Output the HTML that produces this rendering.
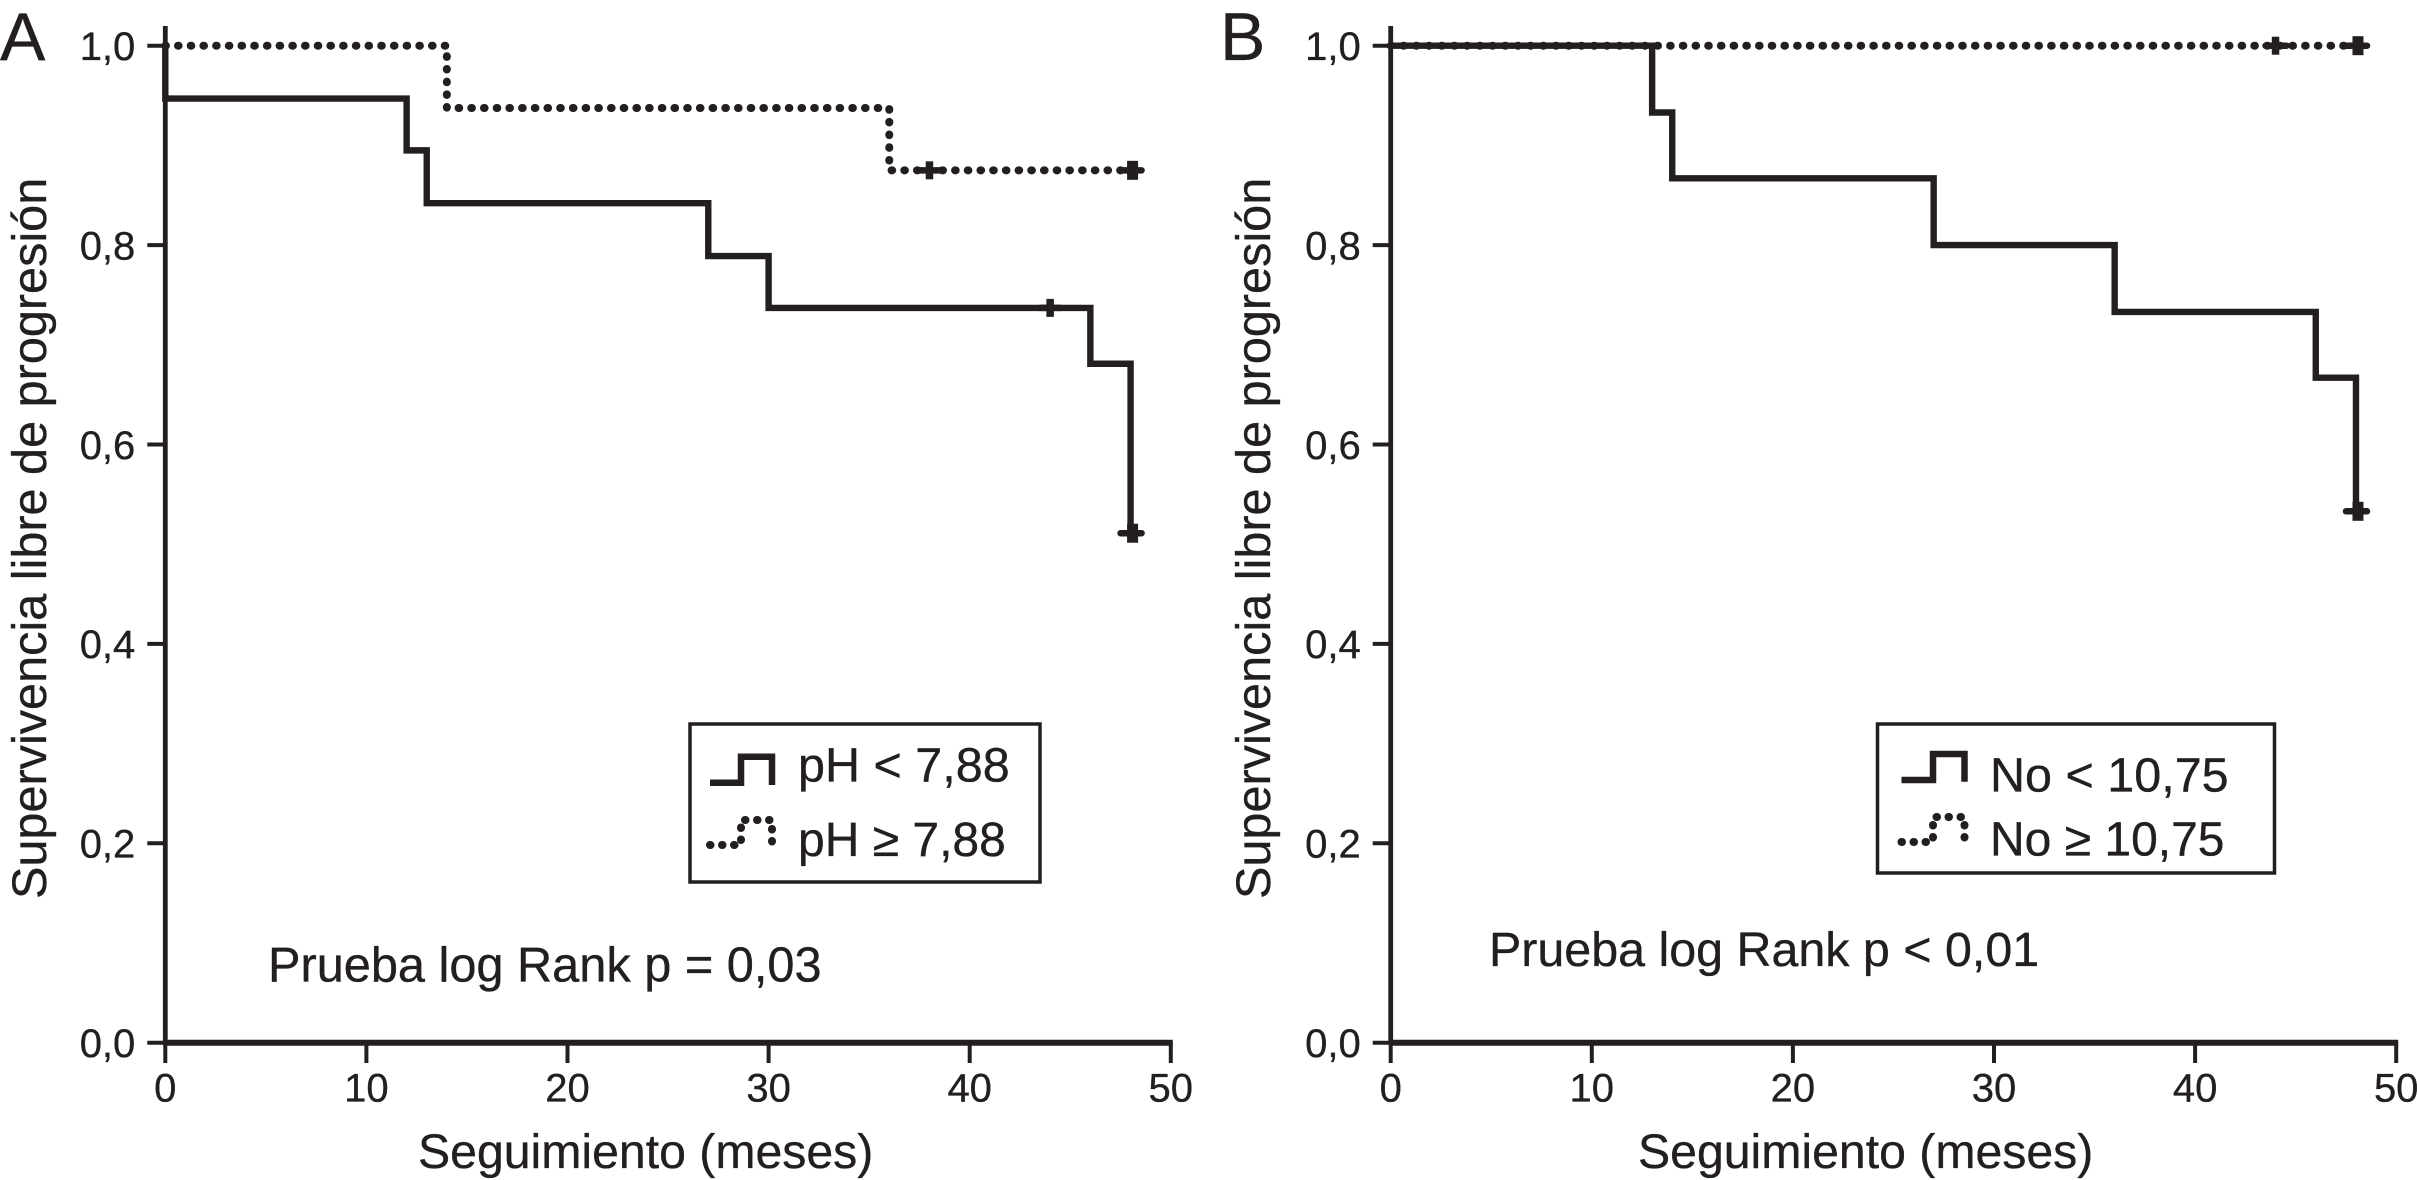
<!DOCTYPE html>
<html lang="es">
<head>
<meta charset="utf-8">
<title>Supervivencia libre de progresión</title>
<style>
html,body{margin:0;padding:0;background:#fff;}
svg{display:block;}
text{font-family:"Liberation Sans",Arial,sans-serif;fill:#231f20;stroke:#231f20;stroke-width:0.35px;}
</style>
</head>
<body>
<svg id="chart" xmlns="http://www.w3.org/2000/svg" width="2417" height="1180" viewBox="0 0 2417 1180">
  <rect width="2417" height="1180" fill="#fff"/>

  <g id="panel-a">
    <text x="0" y="60" font-size="68">A</text>
    <text transform="translate(46,899) rotate(-90)" font-size="48.6">Supervivencia libre de progresión</text>
    <text x="418" y="1168" font-size="48.2">Seguimiento (meses)</text>
    <text x="268" y="981.7" font-size="48.7">Prueba log Rank p = 0,03</text>
    <g>
      <rect x="690" y="724" width="350" height="158" fill="#fff" stroke="#231f20" stroke-width="3.5"/>
      <path d="M710 782.7H741V756.7H772V785" fill="none" stroke="#231f20" stroke-width="6.5"/>
      <path d="M710 845H741V820H772V845" fill="none" stroke="#231f20" stroke-width="8" stroke-linecap="round" stroke-dasharray="0.5 11.5"/>
      <text x="798" y="781.7" font-size="48.5">pH &lt; 7,88</text>
      <text x="798" y="856" font-size="48">pH ≥ 7,88</text>
    </g>
  </g>

  <g id="panel-b">
    <text x="1220" y="60" font-size="68">B</text>
    <text transform="translate(1270,899) rotate(-90)" font-size="48.6">Supervivencia libre de progresión</text>
    <text x="1638" y="1168" font-size="48.2">Seguimiento (meses)</text>
    <text x="1489" y="966" font-size="48.4">Prueba log Rank p &lt; 0,01</text>
    <g>
      <rect x="1877.5" y="724" width="397" height="149" fill="#fff" stroke="#231f20" stroke-width="3.5"/>
      <path d="M1901.5 780H1933V754H1964.5V781.7" fill="none" stroke="#231f20" stroke-width="6.5"/>
      <path d="M1901.5 842H1933V817H1964.5V842" fill="none" stroke="#231f20" stroke-width="8" stroke-linecap="round" stroke-dasharray="0.5 11.5"/>
      <text x="1990" y="791.7" font-size="48.5">No &lt; 10,75</text>
      <text x="1990" y="855.7" font-size="48">No ≥ 10,75</text>
    </g>
  </g>
</svg>

<script>
// Shared axis data
const xTickValues = [0, 10, 20, 30, 40, 50];
const xTickLabels = ["0", "10", "20", "30", "40", "50"];
const yTickValues = [0, 0.2, 0.4, 0.6, 0.8, 1];
const yTickLabels = ["0,0", "0,2", "0,4", "0,6", "0,8", "1,0"];
const followUpEnd = 48;

// Panel A: pH groups
const aSolidTimes = [0, 12, 13, 27, 30, 46, 48];
const aSolidSurvival = [0.947, 0.895, 0.842, 0.789, 0.737, 0.681, 0.511];
const aSolidCensorTimes = [44, 48];
const aDottedTimes = [14, 36];
const aDottedSurvival = [0.9375, 0.875];
const aDottedCensorTimes = [38, 48];

// Panel B: No groups
const bSolidTimes = [13, 14, 27, 36, 46, 48];
const bSolidSurvival = [0.933, 0.867, 0.8, 0.733, 0.667, 0.533];
const bSolidCensorTimes = [48];
const bDottedTimes = [];
const bDottedSurvival = [];
const bDottedCensorTimes = [44, 48];

const SVG_NS = "http://www.w3.org/2000/svg";
const INK = "#231f20";

function xScale(originX, t) { return originX + t * 20.11; }
function yScale(s) { return 1042.7 - s * 997; }

function survivalAt(times, vals, t) {
  let s = 1;
  times.forEach(function (tt, i) { if (tt <= t) s = vals[i]; });
  return s;
}

function stepPath(originX, times, vals) {
  let d = "M" + xScale(originX, 0) + " " + yScale(1);
  times.forEach(function (t, i) {
    d += "H" + xScale(originX, t) + "V" + yScale(vals[i]);
  });
  d += "H" + xScale(originX, followUpEnd);
  return d;
}

function make(parent, tag, props) {
  const el = document.createElementNS(SVG_NS, tag);
  Object.keys(props).forEach(function (k) { el.setAttribute(k, props[k]); });
  parent.appendChild(el);
  return el;
}

function drawAxes(group, originX, prefix) {
  yTickValues.forEach(function (v, i) {
    const tick = make(group, "line", {x1: originX - 18, x2: originX, y1: yScale(v), y2: yScale(v), stroke: INK, "stroke-width": 4});
    
    
    const label = make(group, "text", {x: originX - 30, y: yScale(v) + 14.3, "text-anchor": "end", "font-size": 40});
    label.textContent = yTickLabels[i];
    
    
  });
  xTickValues.forEach(function (v, i) {
    const tick = make(group, "line", {x1: xScale(originX, v), x2: xScale(originX, v), y1: 1042.7, y2: 1063, stroke: INK, "stroke-width": 4});
    
    
    const label = make(group, "text", {x: xScale(originX, v), y: 1101.7, "text-anchor": "middle", "font-size": 40});
    label.textContent = xTickLabels[i];
    
    
  });
  const yAxis = make(group, "line", {x1: originX, x2: originX, y1: 26, y2: 1045, stroke: INK, "stroke-width": 4.8});
  
  
  const xAxis = make(group, "line", {x1: originX - 2, x2: xScale(originX, 50) + 2, y1: 1042.7, y2: 1042.7, stroke: INK, "stroke-width": 6});
  
  
}

function drawCensors(group, originX, times, vals, censorTimes, prefix) {
  censorTimes.forEach(function (t) {
    const s = survivalAt(times, vals, t);
    const big = t === followUpEnd;
    const cx = xScale(originX, t);
    const cy = yScale(s);
    const v = make(group, "line", {x1: cx + (big ? 2 : 0), x2: cx + (big ? 2 : 0), y1: cy - (big ? 9.5 : 9), y2: cy + (big ? 9.5 : 9), stroke: INK, "stroke-width": big ? 11 : 7.5});
    
    
    const h = make(group, "line", {x1: cx - 10, x2: cx + 11, y1: cy, y2: cy, stroke: INK, "stroke-width": 6.5, "stroke-linecap": "round"});
    
    
  });
}

function drawPanel(groupId, originX, prefix, solidT, solidS, solidC, dotT, dotS, dotC) {
  const group = document.getElementById(groupId);
  drawAxes(group, originX, prefix);

  const solid = make(group, "path", {d: stepPath(originX, solidT, solidS), fill: "none", stroke: INK, "stroke-width": 6.4, "stroke-linejoin": "miter"});
  
  
  drawCensors(group, originX, solidT, solidS, solidC, prefix + '-solid');

  const dotted = make(group, "path", {d: stepPath(originX, dotT, dotS), fill: "none", stroke: INK, "stroke-width": 8, "stroke-linecap": "round", "stroke-dasharray": "0.6 12.1"});
  
  
  drawCensors(group, originX, dotT, dotS, dotC, prefix + '-dotted');
}

drawPanel("panel-a", 165.3, "panel-a", aSolidTimes, aSolidSurvival, aSolidCensorTimes, aDottedTimes, aDottedSurvival, aDottedCensorTimes);
drawPanel("panel-b", 1390.7, "panel-b", bSolidTimes, bSolidSurvival, bSolidCensorTimes, bDottedTimes, bDottedSurvival, bDottedCensorTimes);
</script>
</body>
</html>
